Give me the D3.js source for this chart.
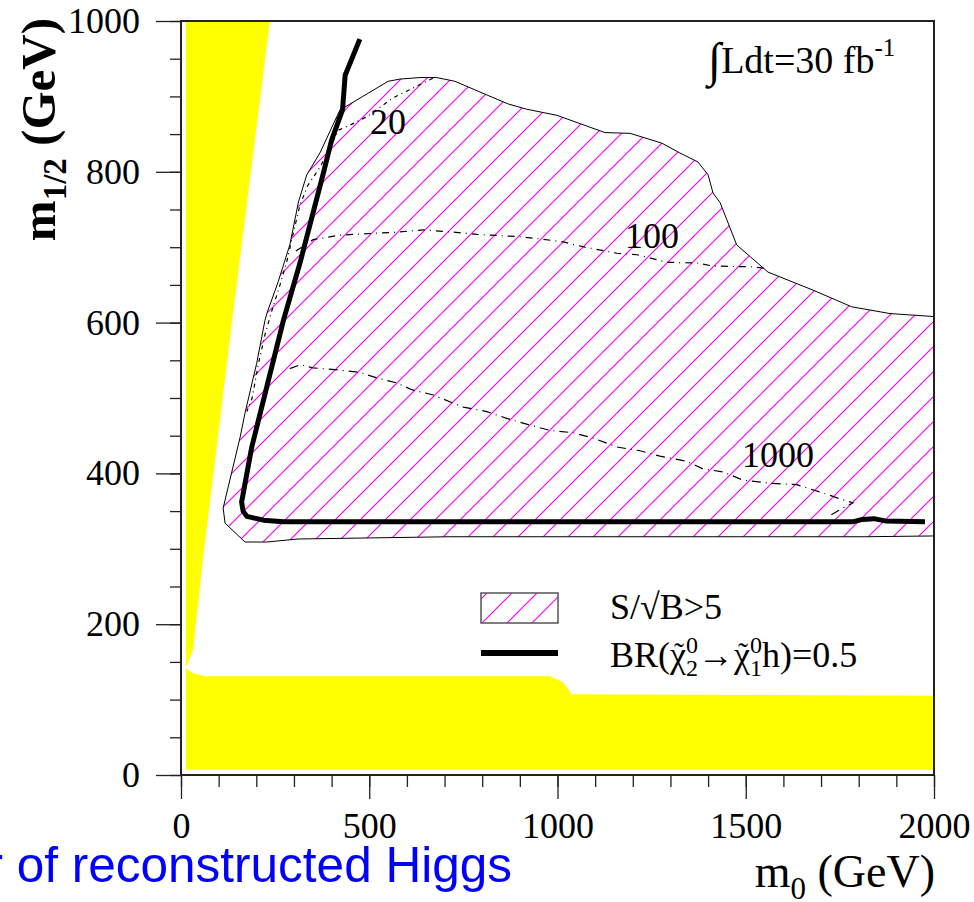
<!DOCTYPE html>
<html>
<head>
<meta charset="utf-8">
<script src="https://cdn.jsdelivr.net/npm/d3@7"></script>
<style>
  body { margin: 0; background: #fff; overflow: hidden; }
</style>
</head>
<body>
<script>
// dimensions
const width = 974;
const height = 902;

const margin = { top: 21, right: 40, bottom: 127, left: 181 };
const serif = "'Liberation Serif', 'Times New Roman', 'DejaVu Serif', serif";
const sans = "'Liberation Sans', Arial, 'DejaVu Sans', sans-serif";

// --- data (m0, m1/2) in GeV ---
// excluded (theory / experiment) region, yellow
const excludedRegion = [
  [13, 7], [13, 1000], [236, 1000], [135, 600], [58, 285], [32, 166], [13, 142],
  [32, 135], [64, 131], [980, 131], [1015, 123], [1038, 107], [2000, 105], [2000, 7]
];

// S/sqrt(B) > 5 region outline
const discoveryRegion = [
  [228, 612], [223, 603], [201, 546], [170, 480], [157, 448], [112, 354], [117, 334],
  [170, 309], [228, 309], [311, 313], [714, 316], [1033, 316], [1817, 316], [1994, 317],
  [2000, 317], [2000, 608], [1883, 612], [1781, 621], [1679, 643], [1559, 667], [1476, 703],
  [1432, 759], [1413, 772], [1400, 796], [1373, 813], [1325, 825], [1277, 838], [1193, 851],
  [1126, 852], [998, 875], [918, 883], [869, 890], [812, 902], [728, 920], [679, 925],
  [635, 925], [582, 923], [550, 920], [483, 900], [422, 882], [369, 825], [334, 796],
  [312, 760], [289, 703], [258, 654]
];

// BR(chi2 -> chi1 h) = 0.5 contour
const brContour = [
  [475, 976], [436, 928], [429, 882], [400, 842], [378, 798], [316, 679], [272, 603],
  [228, 515], [188, 435], [161, 362], [165, 350], [175, 343], [219, 338], [272, 336],
  [1786, 336], [1810, 339], [1840, 340], [1870, 337], [1976, 336]
];

// number of reconstructed Higgs contours
const contour20 = [
  [669, 924], [616, 911], [563, 898], [494, 873], [449, 862], [417, 855], [398, 833],
  [369, 806], [337, 782], [316, 756], [297, 716], [282, 683], [263, 650], [242, 617],
  [223, 584], [205, 544], [189, 500], [175, 482]
];
const contour100 = [
  [305, 695], [351, 710], [422, 716], [574, 720], [643, 723], [722, 720], [786, 717],
  [895, 714], [954, 711], [1015, 707], [1073, 700], [1158, 692], [1211, 690], [1291, 680],
  [1371, 679], [1413, 675], [1511, 674], [1556, 672]
];
const contour1000 = [
  [289, 539], [316, 544], [351, 540], [422, 537], [475, 534], [524, 526], [573, 520],
  [613, 511], [670, 504], [714, 495], [750, 488], [812, 482], [865, 473], [927, 464],
  [980, 457], [1041, 454], [1094, 447], [1158, 435], [1219, 430], [1272, 423], [1343, 416],
  [1386, 406], [1440, 402], [1493, 391], [1564, 387], [1636, 385], [1705, 374], [1758, 365],
  [1785, 361], [1758, 354], [1716, 342]
];
const contourLabels = [
  { text: "20", m0: 502, m12: 850 },
  { text: "100", m0: 1179, m12: 699 },
  { text: "1000", m0: 1490, m12: 408 }
];

const xMajorTicks = [0, 500, 1000, 1500, 2000];
const yMajorTicks = [0, 200, 400, 600, 800, 1000];

// create an svg to draw in
const svg = d3.select("body")
  .append("svg")
  .attr("width", width)
  .attr("height", height);

const x = d3.scaleLinear().domain([0, 2000]).range([margin.left, 934]);
const y = d3.scaleLinear().domain([0, 1000]).range([775, margin.top]);

// hatch pattern for the S/sqrt(B) region
const defs = svg.append("defs");
const hatch = defs.append("pattern")
  .attr("id", "hatch")
  .attr("patternUnits", "userSpaceOnUse")
  .attr("x", 5)
  .attr("width", 25)
  .attr("height", 25);
hatch.append("rect").attr("width", 25).attr("height", 25).attr("fill", "#fff");
hatch.append("path")
  .attr("d", "M0,25L25,0M-5,5L5,-5M20,30L30,20")
  .attr("stroke", "#ff00ff")
  .attr("stroke-width", 1.2);

const line = d3.line().x(d => x(d[0])).y(d => y(d[1]));

// yellow excluded region
svg.append("path")
  .attr("d", line(excludedRegion) + "Z")
  .attr("fill", "#ffff00");

// hatched discovery region
svg.append("path")
  .attr("d", line(discoveryRegion) + "Z")
  .attr("fill", "url(#hatch)")
  .attr("stroke", "#000")
  .attr("stroke-width", 1);

// Higgs-number contours
const contours = [
  { pts: contour20, dash: "4,4,1,4" },
  { pts: contour100, dash: "7,5,1,5" },
  { pts: contour1000, dash: "9,5,1,5" }
];
contours.forEach(function (c) {
  svg.append("path")
    .attr("d", line(c.pts))
    .attr("fill", "none")
    .attr("stroke", "#000")
    .attr("stroke-width", 1.2)
    .attr("stroke-dasharray", c.dash);
});

svg.selectAll(".clabel")
  .data(contourLabels)
  .enter()
  .append("text")
  .attr("class", "clabel")
  .attr("x", d => x(d.m0))
  .attr("y", d => y(d.m12))
  .style("font-family", serif)
  .style("font-size", "36px")
  .text(d => d.text);

// BR = 0.5 thick line
svg.append("path")
  .attr("d", line(brContour))
  .attr("fill", "none")
  .attr("stroke", "#000")
  .attr("stroke-width", 5)
  .attr("stroke-linejoin", "round");

// axes
svg.append("g")
  .attr("transform", "translate(" + margin.left + ",0)")
  .call(d3.axisLeft(y).tickValues(yMajorTicks).tickSize(25).tickPadding(16).tickFormat(d3.format("d")));
svg.append("g")
  .attr("transform", "translate(" + margin.left + ",0)")
  .call(d3.axisLeft(y).tickValues(d3.range(0, 1001, 50)).tickSize(11).tickFormat(""));
svg.append("g")
  .attr("transform", "translate(0,775)")
  .call(d3.axisBottom(x).tickValues(xMajorTicks).tickSize(24).tickPadding(13).tickFormat(d3.format("d")));
svg.append("g")
  .attr("transform", "translate(0,775)")
  .call(d3.axisBottom(x).tickValues(d3.range(0, 2001, 100)).tickSize(12).tickFormat(""));

svg.selectAll(".domain").remove();
svg.selectAll(".tick line").attr("stroke", "#222").attr("stroke-width", 1.3);
svg.selectAll(".tick text")
  .style("font-family", serif)
  .style("font-size", "36px")
  .attr("fill", "#000");

// frame
svg.append("rect")
  .attr("x", margin.left)
  .attr("y", margin.top)
  .attr("width", 934 - margin.left)
  .attr("height", 775 - margin.top)
  .attr("fill", "none")
  .attr("stroke", "#222")
  .attr("stroke-width", 2);

// axis titles
const yTitle = svg.append("text")
  .attr("transform", "translate(55,18) rotate(-90)")
  .attr("text-anchor", "end")
  .style("font-family", serif)
  .style("font-size", "49px")
  .style("font-weight", "bold");
yTitle.append("tspan").text("m");
yTitle.append("tspan").style("font-size", "33px").attr("dy", 11).text("1/2");
yTitle.append("tspan").attr("dy", -11).text(" (GeV)");

const xTitle = svg.append("text")
  .attr("x", 935)
  .attr("y", 887)
  .attr("text-anchor", "end")
  .style("font-family", serif)
  .style("font-size", "46px");
xTitle.append("tspan").text("m");
xTitle.append("tspan").style("font-size", "31px").attr("dy", 12).text("0");
xTitle.append("tspan").attr("dy", -12).text(" (GeV)");

// luminosity label
const lumi = svg.append("text")
  .attr("x", 708)
  .attr("y", 73)
  .style("font-family", serif)
  .style("font-size", "38px");
lumi.append("tspan").style("font-size", "48px").attr("dy", 3).text("\u222B");
lumi.append("tspan").attr("dy", -3).text("Ldt=30 fb");
lumi.append("tspan").style("font-size", "25px").attr("dy", -17).text("-1");

// legend
svg.append("rect")
  .attr("x", 481)
  .attr("y", 593)
  .attr("width", 77)
  .attr("height", 30)
  .attr("fill", "url(#hatch)")
  .attr("stroke", "#555")
  .attr("stroke-width", 1.5);
svg.append("line")
  .attr("x1", 481)
  .attr("x2", 558)
  .attr("y1", 653)
  .attr("y2", 653)
  .attr("stroke", "#000")
  .attr("stroke-width", 6);

svg.append("text")
  .attr("x", 610)
  .attr("y", 619)
  .style("font-family", serif)
  .style("font-size", "36px")
  .text("S/\u221AB>5");

// BR legend label, built piece by piece so sub/superscripts stack
const legendG = svg.append("g").style("font-family", serif);
let cx = 610;
const base = 667;
function piece(str, size, dx, dy, anchor) {
  const t = legendG.append("text")
    .attr("x", cx + (dx || 0))
    .attr("y", base + (dy || 0))
    .attr("text-anchor", anchor || "start")
    .style("font-size", size + "px")
    .text(str);
  return t.node().getComputedTextLength();
}
function neutralino(idx) {
  const w = piece("\u03C7", 36);
  piece("\u02DC", 30, w / 2 + 1, -4, "middle");
  const ws = Math.max(piece("0", 24, w, -14), piece(idx, 24, w, 9));
  cx += w + ws;
}
cx += piece("BR(", 36);
neutralino("2");
cx += piece("\u2192", 36);
neutralino("1");
piece("h)=0.5", 36);

// overlapping slide caption (cut at the left edge)
svg.append("text")
  .attr("x", 512)
  .attr("y", 882)
  .attr("text-anchor", "end")
  .style("font-family", sans)
  .style("font-size", "49.5px")
  .attr("fill", "#0000ff")
  .text("Number of reconstructed Higgs");
</script>
</body>
</html>
